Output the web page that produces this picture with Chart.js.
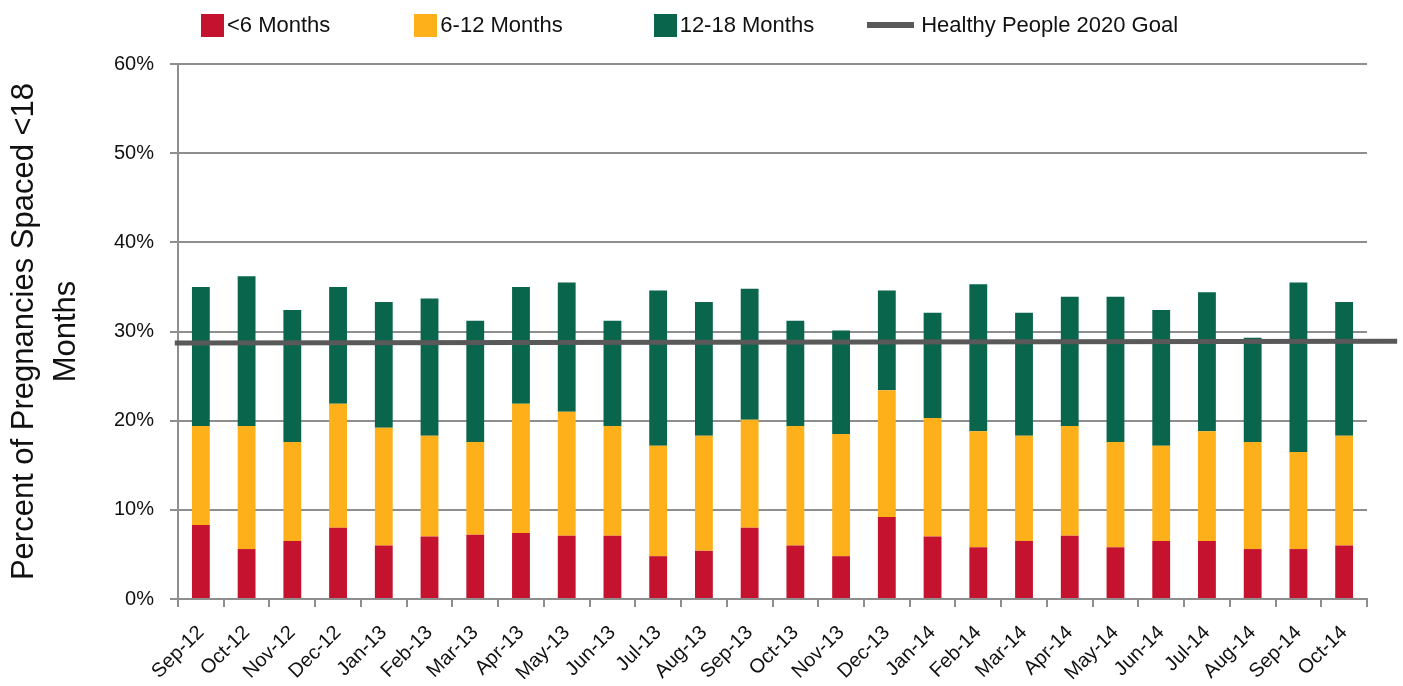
<!DOCTYPE html>
<html>
<head>
<meta charset="utf-8">
<script src="https://cdn.jsdelivr.net/npm/chart.js@4.4.1/dist/chart.umd.min.js"></script>
<style>
  html, body { margin: 0; padding: 0; background: #fff; }
  #wrap { position: relative; width: 1403px; height: 686px; }
  #legend {
    position: absolute; top: 12px; left: 201px;
    display: flex; align-items: center;
    font-family: 'Liberation Sans', Arial, sans-serif; font-size: 22px; color: #111;
  }
  #legend .item { display: flex; align-items: center; }
  #legend .box { width: 23px; height: 23px; margin-right: 3px; }
  #legend .line { width: 47px; height: 6px; margin-right: 7px; }
</style>
</head>
<body>
<div id="wrap">
  <canvas id="spacingChart" width="1403" height="686"></canvas>
  <div id="legend"></div>
</div>
<script>
// ====== DATA ======
const months = ['Sep-12','Oct-12','Nov-12','Dec-12','Jan-13','Feb-13','Mar-13','Apr-13','May-13',
  'Jun-13','Jul-13','Aug-13','Sep-13','Oct-13','Nov-13','Dec-13','Jan-14','Feb-14','Mar-14',
  'Apr-14','May-14','Jun-14','Jul-14','Aug-14','Sep-14','Oct-14'];

const under6 = [8.3, 5.6, 6.5, 8.0, 6.0, 7.0, 7.2, 7.4, 7.1, 7.1, 4.8, 5.4, 8.0,
  6.0, 4.8, 9.2, 7.0, 5.8, 6.5, 7.1, 5.8, 6.5, 6.5, 5.6, 5.6, 6.0];
const from6to12 = [11.1, 13.8, 11.1, 13.9, 13.2, 11.3, 10.4, 14.5, 13.9, 12.3, 12.4, 12.9, 12.1,
  13.4, 13.7, 14.2, 13.3, 13.0, 11.8, 12.3, 11.8, 10.7, 12.3, 12.0, 10.9, 12.3];
const from12to18 = [15.6, 16.8, 14.8, 13.1, 14.1, 15.4, 13.6, 13.1, 14.5, 11.8, 17.4, 15.0, 14.7,
  11.8, 11.6, 11.2, 11.8, 16.5, 13.8, 14.5, 16.3, 15.2, 15.6, 11.7, 19.0, 15.0];

// goal line runs a little past both ends of the category range
const goalValues = [28.7, 28.9];
const goalSpan = [-0.07, 26.66];   // in category units (0 .. months.length)

const yTicks = [0, 10, 20, 30, 40, 50, 60];

// ====== CHART ======
const FONT = "'Liberation Sans', Arial, sans-serif";
const GRID = '#8e8e8e';

function initSpacingChart() {
  const ctx = document.getElementById('spacingChart');

  const bar = (label, data, color) => ({
    type: 'bar', label, data,
    backgroundColor: color,
    borderWidth: 0,
    grouped: false,
    categoryPercentage: 1,
    barPercentage: 0.39,
    order: 1
  });

  const chart = new Chart(ctx, {
    data: {
      labels: months,
      datasets: [
        bar('<6 Months', under6, '#C4122F'),
        bar('6-12 Months', from6to12, '#FDB01A'),
        bar('12-18 Months', from12to18, '#09654C'),
        {
          type: 'line',
          label: 'Healthy People 2020 Goal',
          xAxisID: 'x2',
          data: goalSpan.map((x, i) => ({ x, y: goalValues[i] })),
          borderColor: '#595959',
          borderWidth: 5,
          borderCapStyle: 'butt',
          pointRadius: 0,
          clip: false,
          order: 0
        }
      ]
    },
    options: {
      responsive: false,
      animation: false,
      layout: { padding: { top: 64, right: 36, bottom: 0, left: 4 } },
      plugins: { legend: { display: false }, tooltip: { enabled: false } },
      scales: {
        x: {
          stacked: true,
          offset: true,
          grid: { offset: true, drawOnChartArea: false, drawTicks: true, tickLength: 8, color: GRID, lineWidth: 2 },
          border: { color: GRID, width: 2 },
          ticks: { minRotation: 45, maxRotation: 45, padding: 14, color: '#111', font: { family: FONT, size: 20 } },
          afterFit: s => { s.height = 87; }
        },
        x2: { type: 'linear', display: false, min: 0, max: months.length },
        y: {
          stacked: true,
          min: yTicks[0],
          max: yTicks[yTicks.length - 1],
          afterBuildTicks: s => { s.ticks = yTicks.map(v => ({ value: v })); },
          grid: { color: GRID, lineWidth: 2, tickLength: 8 },
          border: { color: GRID, width: 2 },
          ticks: { padding: 16, color: '#111', font: { family: FONT, size: 20 }, callback: v => v + '%' },
          title: {
            display: true,
            text: ['Percent of Pregnancies Spaced <18', 'Months'],
            color: '#111',
            font: { family: FONT, size: 31, lineHeight: 1.35 },
            padding: { top: 0, bottom: 0 }
          },
          afterFit: s => { s.width = 174; }
        }
      }
    }
  });

  // legend built from the datasets
  const legend = document.getElementById('legend');
  const gaps = [84, 91, 53, 0];
  chart.data.datasets.forEach((ds, i) => {
    const item = document.createElement('div');
    item.className = 'item';
    item.style.marginRight = gaps[i] + 'px';
    const mark = document.createElement('span');
    mark.className = ds.type === 'line' ? 'line' : 'box';
    mark.style.background = ds.type === 'line' ? ds.borderColor : ds.backgroundColor;
    const txt = document.createElement('span');
    txt.textContent = ds.label;
    item.appendChild(mark);
    item.appendChild(txt);
    legend.appendChild(item);
  });
}

initSpacingChart();
</script>
</body>
</html>
